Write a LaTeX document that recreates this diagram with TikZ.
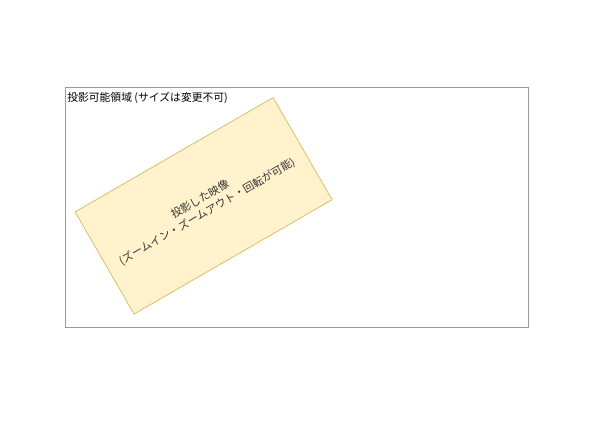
\documentclass[tikz,border=0pt]{standalone}
\usepackage{fontspec}
\newfontfamily\jpfont{Noto Sans CJK JP}
\definecolor{areaedge}{HTML}{9A9A9A}
\definecolor{imgfill}{HTML}{FFF2CC}
\definecolor{imgedge}{HTML}{D6B656}
\definecolor{txtgray}{HTML}{333333}
\begin{document}
\begin{tikzpicture}[x=0.75pt, y=0.75pt,
	lbl/.style={font=\jpfont\fontsize{8.1pt}{10.5pt}\selectfont, inner sep=0pt},
	projimg/.style={draw=imgedge, fill=imgfill, line width=0.5pt, minimum width=171.5pt, minimum height=88.5pt, inner sep=0pt, align=center, text=txtgray}]
			\useasboundingbox (0,0) rectangle (600,424);

			\draw[areaedge, line width=0.75pt] (65.5,336) rectangle (528.8,96.7);
			\node[lbl, anchor=base west] (area) at (67,322.5) {投影可能領域 (サイズは変更不可)};

			\node[projimg, lbl, rotate=30] (image) at (203.6,218.2) {投影した映像\\(ズームイン・ズームアウト・回転が可能)};

		\end{tikzpicture}
\end{document}
